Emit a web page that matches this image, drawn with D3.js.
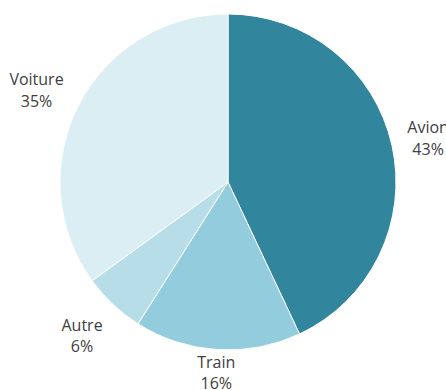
<!DOCTYPE html>
<html><head><meta charset="utf-8">
<script src="https://cdn.jsdelivr.net/npm/d3@7"></script>
<style>html,body{margin:0;padding:0;background:#fff;overflow:hidden}</style>
</head><body>
<svg id="c" width="446" height="390"></svg>
<script>
const categories = ["Avion", "Train", "Autre", "Voiture"];
const values = [43, 16, 6, 35];
const colors = ["#31859c", "#93cddd", "#b7dee8", "#dbeef4"];
// label nudges (layout only)
const labelNudge = [[2, -4.7], [1, -16.6], [-7, 1], [-10.6, -4.8]];

const W = 446, H = 390, cx = 228, cy = 182, R = 168, LR = 203;
const svg = d3.select("#c");
const g = svg.append("g").attr("transform", `translate(${cx},${cy})`);
const pie = d3.pie().sort(null).value(d => d.v);
const data = pie(categories.map((c, i) => ({c, v: values[i], i})));
const arc = d3.arc().innerRadius(0).outerRadius(R);
g.selectAll("path").data(data).join("path")
  .attr("d", arc).attr("fill", d => colors[d.data.i])
  .attr("stroke", "#fff").attr("stroke-width", 1);
const total = d3.sum(values);
const larc = d3.arc().innerRadius(LR).outerRadius(LR);
const lab = g.selectAll("text.l").data(data).join("text")
  .attr("class", "l")
  .attr("transform", d => {
    const [x, y] = larc.centroid(d);
    const n = labelNudge[d.data.i];
    return `translate(${x + n[0]},${y + n[1]})`;
  })
  .attr("text-anchor", "middle")
  .attr("font-family", "'Open Sans', Lato, sans-serif")
  .attr("font-size", 16)
  .attr("fill", "#404040");
lab.append("tspan").attr("x", 0).attr("dy", 0).text(d => d.data.c);
lab.append("tspan").attr("x", 0).attr("dy", 21.5).text(d => Math.round(d.data.v / total * 100) + "%");
</script>
</body></html>
